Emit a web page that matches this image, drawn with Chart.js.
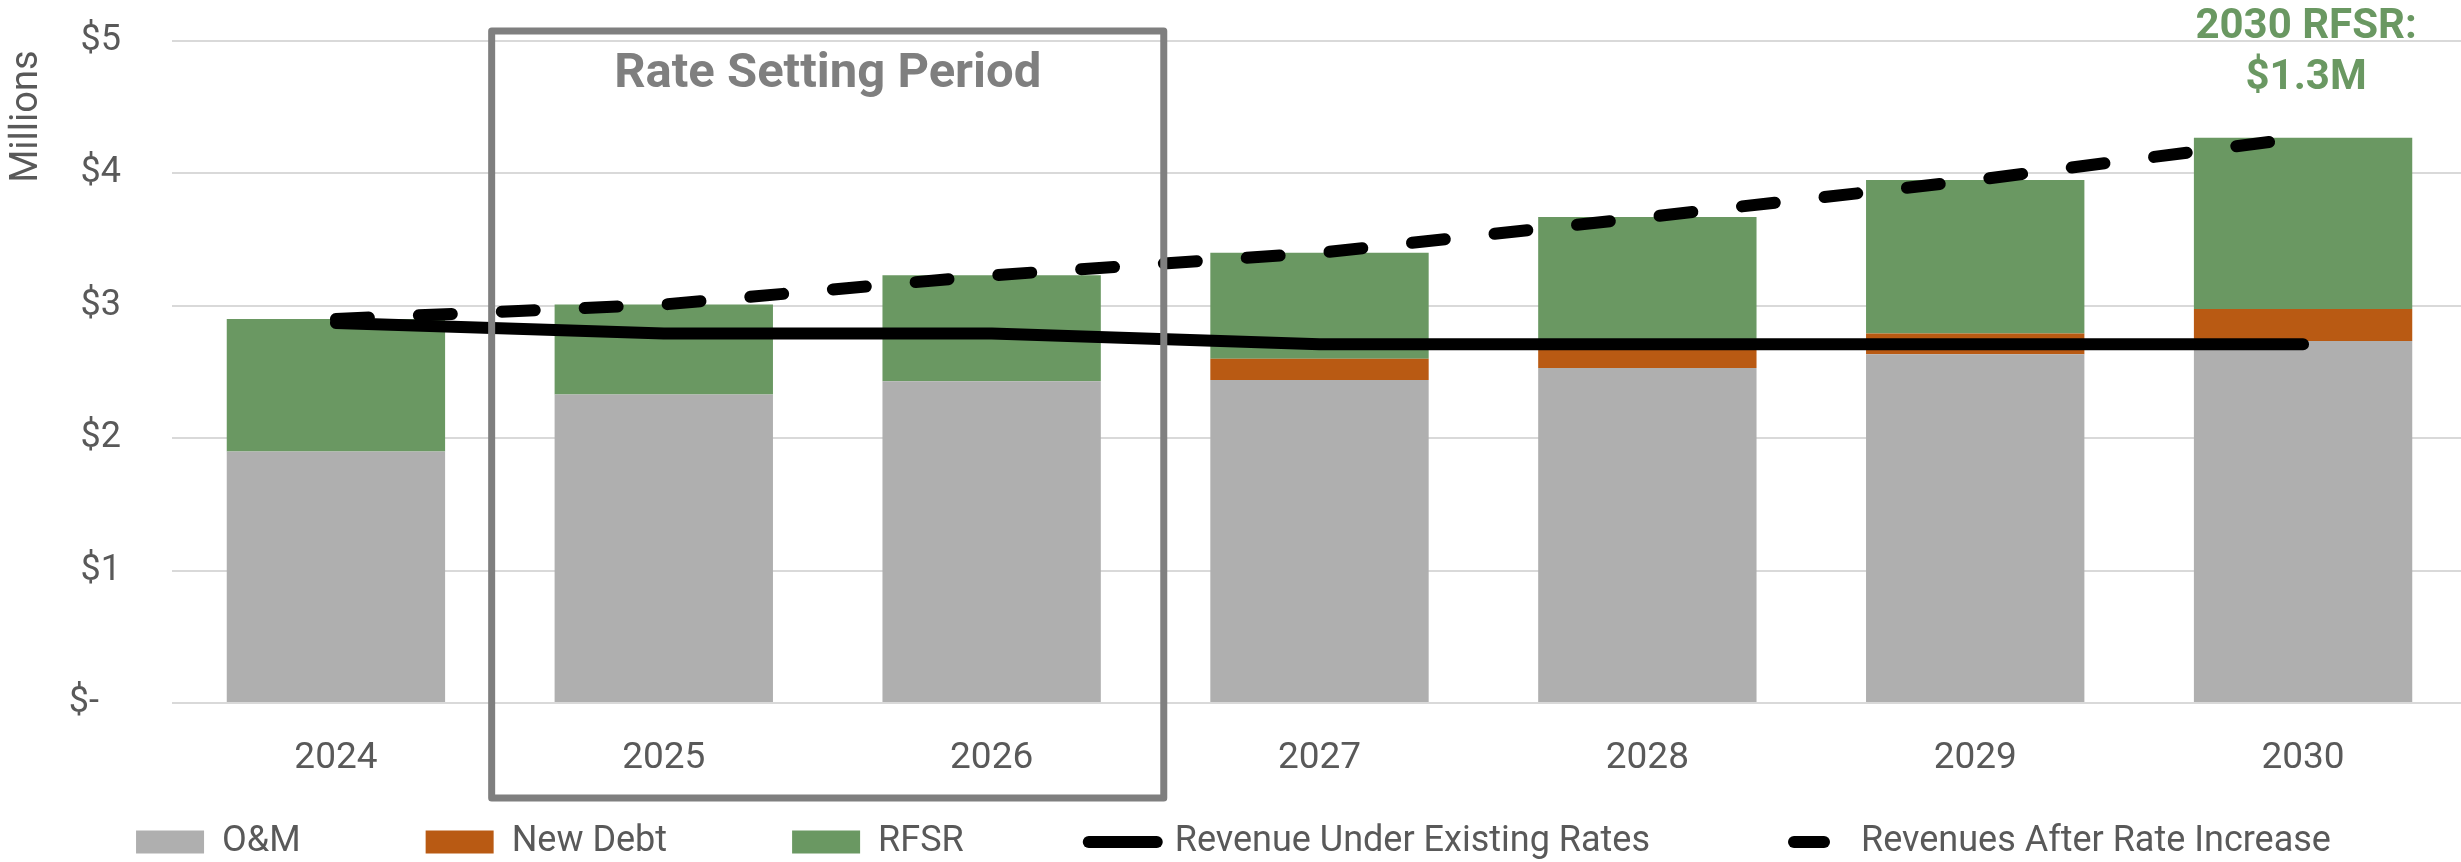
<!DOCTYPE html>
<html>
<head>
<meta charset="utf-8">
<script src="https://cdn.jsdelivr.net/npm/chart.js@4/dist/chart.umd.min.js"></script>
<style>
  html, body { margin: 0; padding: 0; background: #ffffff; overflow: hidden; }
  #wrap { width: 2467px; height: 862px; }
</style>
</head>
<body>
<div id="wrap"><canvas id="c" width="2467" height="862"></canvas></div>
<script>
// ---- data (values in $ millions) ----
const years = ['2024', '2025', '2026', '2027', '2028', '2029', '2030'];
const omValues = [1.90, 2.33, 2.43, 2.44, 2.53, 2.635, 2.735];
const newDebtValues = [0, 0, 0, 0.16, 0.17, 0.155, 0.24];
const rfsrValues = [1.00, 0.68, 0.80, 0.80, 0.97, 1.16, 1.295];
const revenueExisting = [2.87, 2.79, 2.79, 2.71, 2.71, 2.71, 2.71];
const revenueAfter = [2.90, 3.01, 3.23, 3.40, 3.67, 3.95, 4.27];
const yTickValues = [0, 1, 2, 3, 4, 5];
const yTickLabels = ['$-\u2002\u200A', '$1', '$2', '$3', '$4', '$5'];
const seriesNames = ['O&M', 'New Debt', 'RFSR', 'Revenue Under Existing Rates', 'Revenues After Rate Increase'];
const periodLabel = 'Rate Setting Period';
const periodYears = ['2025', '2026'];
const calloutLines = ['2030 RFSR:', '$1.3M'];
const calloutYear = '2030';

const TEXT = '#595959';
Chart.defaults.font.family = 'Roboto, "Open Sans", sans-serif';
Chart.defaults.color = TEXT;

const annotations = {
  id: 'annotations',
  afterLayout(chart) {
    const lg = chart.legend;
    if (lg) { lg.top = 699; lg.bottom = 862; lg.height = 163; }
  },
  afterDraw(chart) {
    const ctx = chart.ctx;
    const xs = chart.scales.x;
    const sp = xs.getPixelForValue(1) - xs.getPixelForValue(0);
    const i0 = years.indexOf(periodYears[0]);
    const i1 = years.indexOf(periodYears[1]);
    const left = xs.getPixelForValue(i0) - 0.525 * sp;
    const right = xs.getPixelForValue(i1) + 0.525 * sp;
    ctx.save();
    ctx.strokeStyle = '#7F7F7F';
    ctx.lineWidth = 7;
    ctx.lineJoin = 'round';
    ctx.beginPath();
    ctx.rect(left, 31, right - left, 798 - 31);
    ctx.stroke();
    ctx.fillStyle = '#7F7F7F';
    ctx.font = 'bold 49px Roboto, "Open Sans", sans-serif';
    ctx.textAlign = 'center';
    ctx.textBaseline = 'alphabetic';
    ctx.fillText(periodLabel, (left + right) / 2, 87);
    const cx = xs.getPixelForValue(years.indexOf(calloutYear));
    ctx.fillStyle = '#6A9862';
    ctx.font = 'bold 42px Roboto, "Open Sans", sans-serif';
    ctx.fillText(calloutLines[0], cx + 3, 38);
    ctx.fillText(calloutLines[1], cx + 3, 89);
    ctx.restore();
  }
};

new Chart(document.getElementById('c'), {
  type: 'bar',
  data: {
    labels: years,
    datasets: [
      { label: seriesNames[0], data: omValues, backgroundColor: '#AFAFAF', borderWidth: 0, stack: 'bars', order: 2,
        barPercentage: 0.666, categoryPercentage: 1 },
      { label: seriesNames[1], data: newDebtValues, backgroundColor: '#B95A13', borderWidth: 0, stack: 'bars', order: 2,
        barPercentage: 0.666, categoryPercentage: 1 },
      { label: seriesNames[2], data: rfsrValues, backgroundColor: '#6A9862', borderWidth: 0, stack: 'bars', order: 2,
        barPercentage: 0.666, categoryPercentage: 1 },
      { type: 'line', label: seriesNames[3], data: revenueExisting, borderColor: '#000000', backgroundColor: '#000000',
        borderWidth: 12, borderCapStyle: 'round', borderJoinStyle: 'round', pointRadius: 0, pointHoverRadius: 0,
        tension: 0, fill: false, stack: 'line1', order: -1 },
      { type: 'line', label: seriesNames[4], data: revenueAfter, borderColor: '#000000', backgroundColor: '#000000',
        borderWidth: 12, borderDash: [33, 50], borderCapStyle: 'round', borderJoinStyle: 'round', pointRadius: 0,
        pointHoverRadius: 0, tension: 0, fill: false, stack: 'line2', order: -2 }
    ]
  },
  options: {
    responsive: false,
    animation: false,
    devicePixelRatio: 1,
    layout: { padding: { top: 41, left: 0, right: 0, bottom: 0 } },
    plugins: {
      tooltip: { enabled: false },
      legend: {
        position: 'bottom',
        maxHeight: 1,
        labels: {
          usePointStyle: true,
          pointStyleWidth: 68,
          boxHeight: 23,
          padding: 125,
          color: TEXT,
          font: { size: 36 },
          sort: (a, b) => a.datasetIndex - b.datasetIndex,
          generateLabels(chart) {
            const items = Chart.defaults.plugins.legend.labels.generateLabels(chart);
            items.forEach(it => {
              const ds = chart.data.datasets[it.datasetIndex];
              if (ds.type === 'line') {
                it.pointStyle = 'line';
                it.lineWidth = ds.borderWidth;
                it.lineDash = ds.borderDash ? [30, 200] : [];
                it.lineDashOffset = ds.borderDash ? -19 : 0;
                it.lineCap = 'round';
                it.strokeStyle = ds.borderColor;
              } else {
                it.pointStyle = 'rect';
                it.lineWidth = 0;
              }
            });
            return items;
          }
        }
      }
    },
    scales: {
      x: {
        stacked: true,
        grid: { display: false },
        border: { display: false },
        ticks: { color: TEXT, font: { size: 37 }, padding: 26 },
        afterFit(scale) { scale.height = 158; }
      },
      y: {
        stacked: true,
        min: 0,
        max: 5,
        afterBuildTicks(scale) { scale.ticks = yTickValues.map(v => ({ value: v })); },
        ticks: {
          color: TEXT,
          font: { size: 36 },
          padding: 51,
          callback: (v) => yTickLabels[yTickValues.indexOf(v)]
        },
        grid: { color: '#D9D9D9', lineWidth: 2, drawTicks: false },
        border: { display: false },
        title: {
          display: true,
          text: 'Millions ',
          align: 'end',
          color: TEXT,
          font: { size: 38 },
          padding: { top: 5, bottom: 0 }
        },
        afterFit(scale) { scale.width = 172; scale.paddingTop = 0; scale.paddingBottom = 0; }
      }
    }
  },
  plugins: [annotations]
});
</script>
</body>
</html>
